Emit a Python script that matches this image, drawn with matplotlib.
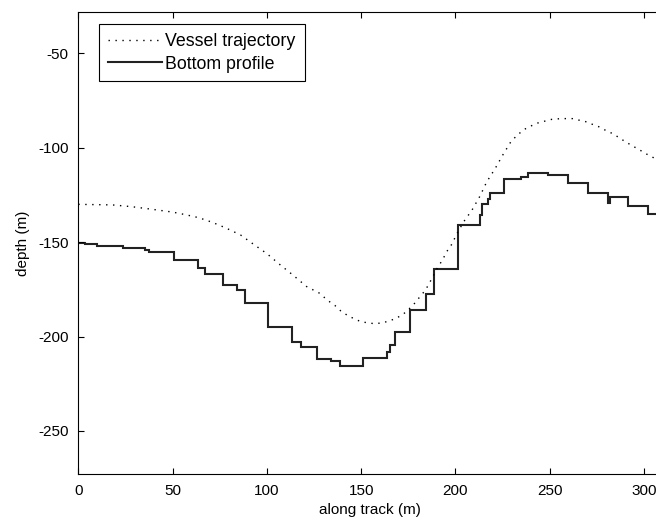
import matplotlib
matplotlib.use("Agg")
import matplotlib.pyplot as plt

# vessel trajectory (smooth, dotted)
vessel_x = [0, 18, 28, 39, 50, 57, 64, 71, 78, 86, 93, 100, 107, 114, 121,
            128, 132, 136, 139, 143, 147, 150, 154, 157, 161, 164, 168, 172,
            175, 178, 181, 184, 186, 188, 190, 192, 194, 196, 198.5, 200, 202,
            204, 206.5, 209, 211, 213, 216.5, 221, 225, 229.4, 232.8, 236.5,
            240, 243.7, 247.5, 251, 256, 262, 265, 269, 272, 276, 279, 283,
            286.5, 290, 293.6, 297.5, 301, 305, 310]
vessel_depth = [-130, -130.3, -131.2, -132.6, -134.1, -135.5, -137.1, -139.5,
                -142.4, -146.2, -151.2, -156.1, -162.0, -167.6, -173.5, -177.1,
                -180.7, -183.5, -186.3, -189.0, -190.9, -192.2, -192.8, -193.2,
                -192.8, -192.0, -190.6, -188.4, -185.8, -182.8, -179.1, -175.5,
                -172.0, -168.3, -164.4, -161.2, -157.7, -154.0, -150.5, -146.9,
                -143.4, -139.7, -136.2, -132.6, -129.1, -125.6, -118.2, -111.1,
                -104.0, -96.8, -93.3, -90.3, -88.5, -86.9, -85.9, -85.0, -84.6,
                -84.6, -85.3, -86.2, -87.4, -88.9, -90.5, -92.4, -94.5, -96.8,
                -98.9, -101.1, -103.2, -105.3, -108.2]

# bottom profile (piecewise constant): segment edges and depths
bottom_edges = [0, 3.5, 10.1, 23.5, 35.4, 37.7, 50.9, 63.6, 67.2, 76.6, 84.0,
                88.4, 100.7, 113.5, 117.9, 126.4, 134.0, 138.8, 150.8, 163.5,
                165.3, 167.9, 175.9, 184.4, 188.8, 201.2, 213.0, 213.9, 217.4,
                218.3, 225.9, 234.6, 238.6, 249.2, 259.8, 270.4, 280.7, 282.0,
                291.6, 301.9, 312]
bottom_depth = [-150.6, -151.2, -152.1, -153.3, -154.2, -155.4, -159.5, -163.9,
                -166.9, -172.7, -175.4, -182.5, -194.8, -202.7, -205.4, -212.1,
                -212.8, -215.6, -211.5, -208.0, -204.5, -197.5, -186.2, -177.5,
                -164.2, -140.9, -135.6, -129.8, -127.3, -124.2, -116.7, -115.3,
                -113.2, -114.6, -118.9, -124.2, -129.4, -126.0, -130.9, -135.1]

x_ticks = [0, 50, 100, 150, 200, 250, 300]
y_ticks = [-250, -200, -150, -100, -50]

plt.rcParams["font.family"] = ["Liberation Sans", "DejaVu Sans"]
plt.rcParams["font.size"] = 11
plt.rcParams["axes.unicode_minus"] = False  # plain hyphens like the original

fig = plt.figure(figsize=(6.56, 5.24), dpi=100)
ax = fig.add_axes([78.3 / 656, 50 / 524, (662 - 78.3) / 656, 461.7 / 524])

ax.plot(vessel_x, vessel_depth, color="black", lw=1.0,
        linestyle=(0, (1, 4)), label="Vessel trajectory")
ax.stairs(bottom_depth, bottom_edges, baseline=None, color="#222222",
          lw=1.5, label="Bottom profile")

ax.set_xlim(0, 309.5)
ax.set_ylim(-272.8, -28.3)
ax.set_xticks(x_ticks)
ax.set_yticks(y_ticks)
ax.tick_params(direction="in", length=4.5, top=True, right=True,
               width=0.8, pad=7, labelsize=11)
for s in ax.spines.values():
    s.set_linewidth(0.8)

ax.set_xlabel("along track (m)", fontsize=11, labelpad=4)
ax.set_ylabel("depth (m)", fontsize=11, labelpad=6)

leg = ax.legend(loc="upper left", bbox_to_anchor=(0.036, 0.974),
                borderaxespad=0, fancybox=False, framealpha=1,
                edgecolor="black", handlelength=3.0, handletextpad=0.22,
                borderpad=0.5, labelspacing=0.3, fontsize=12.8)
leg.get_frame().set_linewidth(0.8)

fig.savefig("out.png", dpi=100)
